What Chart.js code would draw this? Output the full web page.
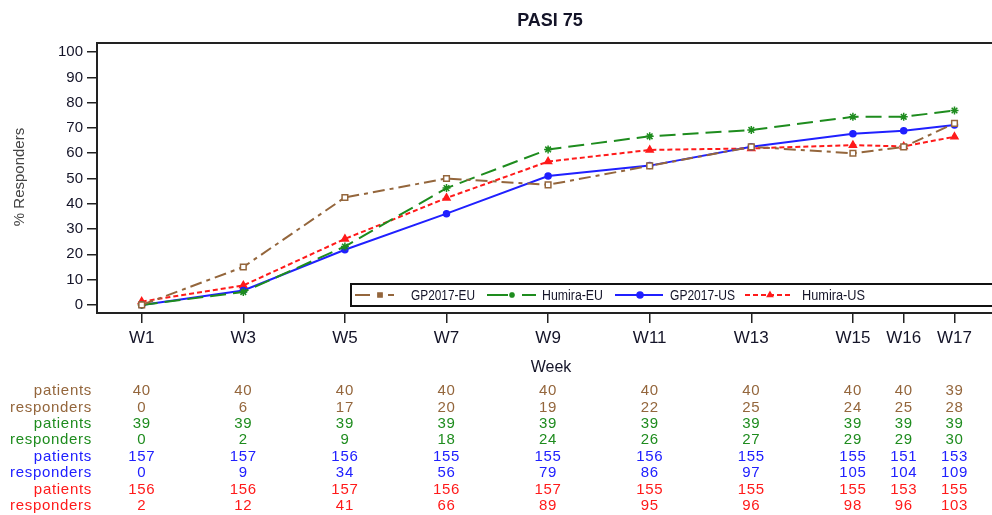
<!DOCTYPE html>
<html>
<head>
<meta charset="utf-8">
<script src="https://cdn.jsdelivr.net/npm/chart.js@4.4.1/dist/chart.umd.min.js"></script>
<style>
  html, body { margin: 0; padding: 0; background: #fff; overflow: hidden; }
  canvas { display: block; }
</style>
</head>
<body>
<canvas id="pasi" width="992" height="515"></canvas>
<script>
"use strict";

const weeks = [1, 3, 5, 7, 9, 11, 13, 15, 16, 17];
const weekLabels = ["W1", "W3", "W5", "W7", "W9", "W11", "W13", "W15", "W16", "W17"];
const yTicks = [0, 10, 20, 30, 40, 50, 60, 70, 80, 90, 100];

// % responders
const gpEu = [0, 15, 42.5, 50, 47.5, 55, 62.5, 60, 62.5, 71.8];
const huEu = [0, 5.1, 23.1, 46.2, 61.5, 66.7, 69.2, 74.4, 74.4, 76.9];
const gpUs = [0, 5.7, 21.8, 36.1, 51, 55.1, 62.6, 67.7, 68.9, 71.2];
const huUs = [1.3, 7.7, 26.1, 42.3, 56.7, 61.3, 61.9, 63.2, 62.7, 66.5];

// table under the chart
const gpEuPatients = [40, 40, 40, 40, 40, 40, 40, 40, 40, 39];
const gpEuResponders = [0, 6, 17, 20, 19, 22, 25, 24, 25, 28];
const huEuPatients = [39, 39, 39, 39, 39, 39, 39, 39, 39, 39];
const huEuResponders = [0, 2, 9, 18, 24, 26, 27, 29, 29, 30];
const gpUsPatients = [157, 157, 156, 155, 155, 156, 155, 155, 151, 153];
const gpUsResponders = [0, 9, 34, 56, 79, 86, 97, 105, 104, 109];
const huUsPatients = [156, 156, 157, 156, 157, 155, 155, 155, 153, 155];
const huUsResponders = [2, 12, 41, 66, 89, 95, 96, 98, 96, 103];

const BROWN = "#94663c";
const GREEN = "#1e8c1e";
const BLUE = "#2020ff";
const RED = "#ff1a1a";
const FONT = "'Liberation Sans', Arial, sans-serif";
const TEXT = "#141428";

const series = [
  { label: "GP2017-EU", data: gpEu, color: BROWN, dash: [12, 5, 4, 5], legendDash: [15, 18], style: "rect", radius: 4, fill: "#fff", legendFill: BROWN },
  { label: "Humira-EU", data: huEu, color: GREEN, dash: [16, 7], legendDash: [21, 14], style: "star", radius: 4, fill: GREEN, legendFill: GREEN },
  { label: "GP2017-US", data: gpUs, color: BLUE, dash: [], legendDash: [], style: "circle", radius: 3, fill: BLUE, legendFill: BLUE },
  { label: "Humira-US", data: huUs, color: RED, dash: [5, 3], legendDash: [5, 3], style: "triangle", radius: 4, fill: RED, legendFill: RED },
];

const tableRows = [
  { label: "patients", values: gpEuPatients, color: BROWN },
  { label: "responders", values: gpEuResponders, color: BROWN },
  { label: "patients", values: huEuPatients, color: GREEN },
  { label: "responders", values: huEuResponders, color: GREEN },
  { label: "patients", values: gpUsPatients, color: BLUE },
  { label: "responders", values: gpUsResponders, color: BLUE },
  { label: "patients", values: huUsPatients, color: RED },
  { label: "responders", values: huUsResponders, color: RED },
];

const legendItems = [
  { s: series[0], x0: 355, x1: 394, mx: 380, tx: 411, tw: 64 },
  { s: series[1], x0: 487, x1: 536, mx: 512, tx: 542, tw: 61 },
  { s: series[2], x0: 615, x1: 663, mx: 640, tx: 670, tw: 65 },
  { s: series[3], x0: 745, x1: 793, mx: 770, tx: 802, tw: 63 },
];

function drawMarker(ctx, style, x, y, r, fill, stroke) {
  if (Chart.helpers && Chart.helpers.drawPoint) {
    ctx.fillStyle = fill;
    ctx.strokeStyle = stroke;
    ctx.lineWidth = 1.5;
    ctx.setLineDash([]);
    Chart.helpers.drawPoint(ctx, { pointStyle: style, radius: r, rotation: 0, borderWidth: 1.5 }, x, y);
  }
}

// squeezes text horizontally to mimic the condensed legend font
function fitText(ctx, str, x, y, width) {
  const w = ctx.measureText(str).width;
  ctx.save();
  ctx.translate(x, y);
  ctx.scale(width / w, 1);
  ctx.fillText(str, 0, 0);
  ctx.restore();
}

const decorPlugin = {
  id: "decor",
  beforeDatasetsDraw(chart) {
    const { ctx, chartArea: a } = chart;
    ctx.save();
    ctx.strokeStyle = "#222";
    ctx.lineWidth = 2;
    ctx.beginPath();
    ctx.moveTo(chart.width + 5, a.top);
    ctx.lineTo(a.left, a.top);
    ctx.lineTo(a.left, a.bottom);
    ctx.lineTo(chart.width + 5, a.bottom);
    ctx.stroke();
    ctx.restore();
  },
  afterDatasetsDraw(chart) {
    const { ctx } = chart;
    const xs = chart.scales.x;
    ctx.save();

    // legend box
    ctx.fillStyle = "#fff";
    ctx.fillRect(351, 284, 660, 22);
    ctx.strokeStyle = "#111";
    ctx.lineWidth = 2;
    ctx.strokeRect(351, 284, 660, 22);
    const ly = 295;
    for (const it of legendItems) {
      ctx.strokeStyle = it.s.color;
      ctx.lineWidth = 2;
      ctx.setLineDash(it.s.legendDash);
      ctx.beginPath();
      ctx.moveTo(it.x0, ly);
      ctx.lineTo(it.x1, ly);
      ctx.stroke();
      drawMarker(ctx, it.s.style, it.mx, ly, 3, it.s.legendFill, it.s.color);
      ctx.setLineDash([]);
      ctx.fillStyle = TEXT;
      ctx.font = "15px " + FONT;
      ctx.textAlign = "left";
      ctx.textBaseline = "middle";
      fitText(ctx, it.s.label, it.tx, ly + 1, it.tw);
    }

    // title and axis titles
    ctx.fillStyle = TEXT;
    ctx.font = "bold 18px " + FONT;
    ctx.textAlign = "center";
    ctx.textBaseline = "middle";
    ctx.fillText("PASI 75", 550, 21);

    ctx.font = "16px " + FONT;
    ctx.fillText("Week", 551, 368);

    ctx.save();
    ctx.translate(20, 177);
    ctx.rotate(-Math.PI / 2);
    ctx.fillStyle = "#444";
    ctx.font = "15px " + FONT;
    ctx.fillText("% Responders", 0, 0);
    ctx.restore();

    // table
    ctx.font = "15px " + FONT;
    ctx.letterSpacing = "0.7px";
    tableRows.forEach((row, i) => {
      const y = 391 + i * 16.4;
      ctx.fillStyle = row.color;
      ctx.textAlign = "right";
      ctx.fillText(row.label, 92, y);
      ctx.textAlign = "center";
      row.values.forEach((v, j) => {
        ctx.fillText(String(v), xs.getPixelForValue(weeks[j]), y);
      });
    });
    ctx.letterSpacing = "0px";
    ctx.restore();
  },
};

new Chart(document.getElementById("pasi"), {
  type: "line",
  data: {
    datasets: series.map(s => ({
      label: s.label,
      data: s.data.map((v, i) => ({ x: weeks[i], y: v })),
      borderColor: s.color,
      borderWidth: 2,
      borderDash: s.dash,
      pointStyle: s.style,
      pointRadius: s.radius,
      pointBorderWidth: 1.5,
      pointBackgroundColor: s.fill,
      pointBorderColor: s.color,
      tension: 0,
      fill: false,
    })),
  },
  options: {
    responsive: false,
    animation: false,
    layout: { padding: { top: 43, right: 0, left: 0, bottom: 0 } },
    plugins: { legend: { display: false }, title: { display: false }, tooltip: { enabled: false } },
    scales: {
      x: {
        type: "linear",
        min: 0.12,
        max: 17.63,
        afterBuildTicks: scale => { scale.ticks = weeks.map(v => ({ value: v })); },
        afterFit: scale => { scale.height = 202; },
        border: { display: false },
        grid: { drawOnChartArea: false, drawTicks: true, tickLength: 10, tickColor: "#222", lineWidth: 1.5 },
        ticks: {
          autoSkip: false,
          maxRotation: 0,
          padding: 5,
          color: TEXT,
          font: { family: FONT, size: 17 },
          callback: v => weekLabels[weeks.indexOf(v)],
        },
      },
      y: {
        min: -3.2,
        max: 103.6,
        afterBuildTicks: scale => { scale.ticks = yTicks.map(v => ({ value: v })); },
        afterFit: scale => { scale.width = 97; },
        border: { display: false },
        grid: { drawOnChartArea: false, drawTicks: true, tickLength: 10, tickColor: "#222", lineWidth: 1.5 },
        ticks: {
          padding: 4,
          color: TEXT,
          font: { family: FONT, size: 15 },
        },
      },
    },
  },
  plugins: [decorPlugin],
});
</script>
</body>
</html>
